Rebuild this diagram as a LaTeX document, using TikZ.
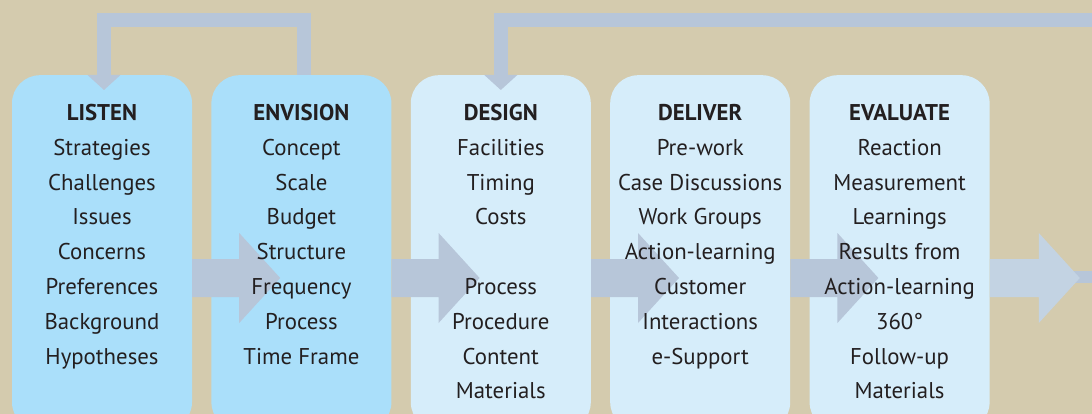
\documentclass[tikz,border=0pt]{standalone}
\usepackage{fontspec}
\setmainfont{PT Sans}
\usetikzlibrary{calc,arrows.meta,positioning}
\definecolor{sand}{RGB}{212,203,174}
\definecolor{skyDark}{RGB}{170,223,250}
\definecolor{skyLight}{RGB}{214,237,250}
\definecolor{flowBlue}{RGB}{183,198,217}
\definecolor{flowPale}{RGB}{195,211,227}
\definecolor{ink}{RGB}{35,31,32}
\tikzset{
    stage/.style={
        ,   rounded corners=28pt
        ,   minimum width=180pt
        ,   minimum height=355pt
        ,   inner sep=0pt
        ,   anchor=north
    },
    stageDark/.style={stage, fill=skyDark},
    stageLight/.style={stage, fill=skyLight},
    flow/.style={fill=flowBlue},
    link/.style={draw=flowBlue, line width=14pt},
    item/.style={
        ,   anchor=base
        ,   inner sep=0pt
        ,   text=ink
        ,   font=\fontsize{22.8}{28}\selectfont
    },
    headline/.style={item, font=\fontsize{22.8}{28}\selectfont\bfseries},
}
\begin{document}
\begin{tikzpicture}[x=1pt, y=-1pt, node distance=19pt]
	\useasboundingbox (0,0) rectangle (1092,414);
	\clip (0,0) rectangle (1092,414);
	\fill[sand] (0,0) rectangle (1092,414);

	% the five stages
	\node[stageDark] (listen) at (102,75) {};
	\node[stageDark, right=of listen] (envision) {};
	\node[stageLight, right=of envision] (design) {};
	\node[stageLight, right=of design] (deliver) {};
	\node[stageLight, right=of deliver] (evaluate) {};

	% loops back over the top
	\coordinate (row) at (0,278);
	\coordinate (back) at (1100,20);
	\draw[link,-{Triangle[width=33pt,length=15pt,line width=0pt]}] ($(envision.north)+(3,0)$) -- ++(0,-55) -| ($(listen.north)+(2,15)$);
	\draw[link,-{Triangle[width=33pt,length=15pt,line width=0pt]}] (back) -| ($(design.north)+(0,15)$);

	% block arrows between the stages
	\foreach \a/\b in {listen/envision,envision/design,design/deliver,deliver/evaluate}{
	\fill[flow] ($(\a.east |- row)+(0,-19)$) -- ($(\b.west |- row)+(28,-19)$) -- ++(0,-26) -- ++(41,45) -- ++(-41,45) -- ++(0,-26) -- ($(\a.east |- row)+(0,19)$) -- cycle;
	}
	\coordinate (exit) at (1100,277);
	\draw[draw=flowBlue, line width=12pt] ($(evaluate.east |- row)+(75,-1)$) -- (exit);
	\fill[flowPale] ($(evaluate.east |- row)+(0,-19)$) -- ++(49,0) -- ++(0,-26) -- ++(41,45) -- ++(-41,45) -- ++(0,-26) -- ($(evaluate.east |- row)+(0,19)$) -- cycle;

	% texts
	\node[headline] (listen-t) at ($(listen.north)+(0,45.5)$) {LISTEN};
	\foreach \t [count=\i] in {Strategies,Challenges,Issues,Concerns,Preferences,Background,Hypotheses}{
	\node[item] (listen-\i) at ($(listen.north)+(0,{45.5+34.8*\i})$) {\t};
	}
	\node[headline] (envision-t) at ($(envision.north)+(0,45.5)$) {ENVISION};
	\foreach \t [count=\i] in {Concept,Scale,Budget,Structure,Frequency,Process,Time Frame}{
	\node[item] (envision-\i) at ($(envision.north)+(0,{45.5+34.8*\i})$) {\t};
	}
	\node[headline] (design-t) at ($(design.north)+(0,45.5)$) {DESIGN};
	\foreach \t/\i in {Facilities/1,Timing/2,Costs/3,Process/5,Procedure/6,Content/7,Materials/8}{
	\node[item] (design-\i) at ($(design.north)+(0,{45.5+34.8*\i})$) {\t};
	}
	\node[headline] (deliver-t) at ($(deliver.north)+(0,45.5)$) {DELIVER};
	\foreach \t [count=\i] in {Pre-work,Case Discussions,Work Groups,Action-learning,Customer,Interactions,e-Support}{
	\node[item] (deliver-\i) at ($(deliver.north)+(0,{45.5+34.8*\i})$) {\t};
	}
	\node[headline] (evaluate-t) at ($(evaluate.north)+(0,45.5)$) {EVALUATE};
	\foreach \t [count=\i] in {Reaction,Measurement,Learnings,Results from,Action-learning,360°,Follow-up,Materials}{
	\node[item] (evaluate-\i) at ($(evaluate.north)+(0,{45.5+34.8*\i})$) {\t};
	}
\end{tikzpicture}
\end{document}
